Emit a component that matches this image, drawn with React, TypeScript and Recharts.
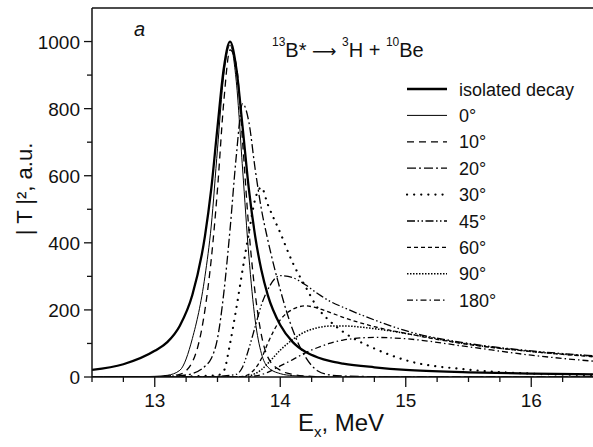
import React from "react";
import { LineChart, Line, XAxis, YAxis, ReferenceLine } from "recharts";

// excitation energy grid, MeV
const energies = [
  12.5, 12.75, 13.0, 13.1, 13.2, 13.3, 13.4, 13.45, 13.5, 13.55, 13.6, 13.65,
  13.7, 13.75, 13.8, 13.85, 13.9, 14.0, 14.1, 14.2, 14.3, 14.4, 14.5, 14.75,
  15.0, 15.5, 16.0, 16.5,
];

// |T|^2, a.u.
const isolated = [
  21, 38, 78, 104, 153, 245, 420, 560, 745, 920, 1000, 920, 745, 560, 420, 318,
  245, 155, 104, 75, 58, 47, 40, 29, 21, 14, 10, 8,
];
const deg0 = [
  0, 0, 2, 5, 20, 115, 300, 450, 680, 900, 990, 880, 620, 360, 170, 70, 30, 10,
  4, 2, 1, 0, 0, 0, 0, 0, 0, 0,
];
const deg10 = [
  0, 0, 1, 3, 8, 45, 200, 350, 560, 820, 975, 930, 700, 440, 250, 125, 60, 20,
  8, 3, 1, 0, 0, 0, 0, 0, 0, 0,
];
const deg20 = [
  0, 0, 1, 2, 4, 10, 32, 55, 115, 250, 440, 660, 815, 760, 620, 500, 410, 260,
  140, 60, 18, 6, 3, 1, 0, 0, 0, 0,
];
const deg30 = [
  0, 0, 0, 0, 1, 2, 3, 4, 5, 18, 100, 205, 320, 430, 530, 565, 515, 430, 340,
  270, 205, 165, 135, 85, 50, 22, 10, 6,
];
const deg45 = [
  0, 0, 0, 0, 0, 0, 1, 1, 2, 3, 5, 8, 30, 85, 150, 215, 260, 302, 296, 275, 248,
  225, 208, 170, 138, 100, 78, 63,
];
const deg60 = [
  0, 0, 0, 0, 0, 0, 0, 0, 0, 0, 0, 1, 2, 8, 25, 55, 100, 170, 202, 212, 205,
  192, 178, 150, 130, 97, 76, 60,
];
const deg90 = [
  0, 0, 0, 0, 0, 0, 0, 0, 0, 0, 0, 0, 1, 3, 10, 22, 40, 80, 112, 135, 147, 152,
  152, 144, 130, 98, 76, 62,
];
const deg180 = [
  0, 0, 0, 0, 0, 0, 0, 0, 0, 0, 0, 0, 0, 1, 3, 7, 14, 33, 52, 72, 88, 101, 110,
  118, 114, 90, 65, 47,
];

const seriesKeys = ["iso", "d0", "d10", "d20", "d30", "d45", "d60", "d90", "d180"];
const seriesNames = ["isolated decay", "0°", "10°", "20°", "30°", "45°", "60°", "90°", "180°"];
const seriesValues = [isolated, deg0, deg10, deg20, deg30, deg45, deg60, deg90, deg180];

const xTicks = [
  12.5, 12.75, 13, 13.25, 13.5, 13.75, 14, 14.25, 14.5, 14.75, 15, 15.25, 15.5,
  15.75, 16, 16.25,
];
const xLabels = [13, 14, 15, 16];
const yTicks = [0, 100, 200, 300, 400, 500, 600, 700, 800, 900, 1000];
const yLabels = [0, 200, 400, 600, 800, 1000];

const styles: Record<string, { w: number; dash?: string; cap?: "round" | "butt" }> = {
  iso: { w: 2.3 },
  d0: { w: 1 },
  d10: { w: 1.3, dash: "7 5" },
  d20: { w: 1.3, dash: "9 3 2 3" },
  d30: { w: 2.2, dash: "0.1 7", cap: "round" },
  d45: { w: 1.3, dash: "8 2.5 1.5 2.5 1.5 2.5" },
  d60: { w: 1.3, dash: "4 3" },
  d90: { w: 1.5, dash: "1.5 1.5" },
  d180: { w: 1.3, dash: "6 3 1.5 3" },
};

const rows = energies.map((e, i) => {
  const r: Record<string, number> = { E: e };
  seriesKeys.forEach((k, j) => (r[k] = seriesValues[j][i]));
  return r;
});

const FONT = '"Liberation Sans", Arial, Helvetica, sans-serif';
const INK = "#111";

function XTick(props: any) {
  const { x, y, payload } = props;
  const major = xLabels.includes(payload.value);
  return (
    <g>
      <line x1={x} x2={x} y1={y} y2={y + (major ? 10 : 5)} stroke={INK} strokeWidth={1.3} />
      {major && (
        <text x={x} y={y + 30} textAnchor="middle" fontSize={19} fontFamily={FONT} fill={INK}>
          {payload.value}
        </text>
      )}
    </g>
  );
}

function YTick(props: any) {
  const { x, y, payload } = props;
  const major = yLabels.includes(payload.value);
  return (
    <g>
      <line x1={x} x2={x - (major ? 8 : 5)} y1={y} y2={y} stroke={INK} strokeWidth={1.3} />
      {major && (
        <text x={x - 12} y={y + 7} textAnchor="end" fontSize={19} fontFamily={FONT} fill={INK}>
          {payload.value}
        </text>
      )}
    </g>
  );
}

const legendTop = 89;
const legendStep = 26.4;

export default function App() {
  return (
    <div
      style={{
        position: "absolute",
        left: 0,
        top: 0,
        width: 593,
        height: 447,
        overflow: "hidden",
        background: "#fff",
      }}
    >
      <LineChart
        width={600}
        height={447}
        data={rows}
        margin={{ top: 8, right: 6, bottom: 30, left: 32 }}
      >
        <XAxis
          dataKey="E"
          type="number"
          domain={[12.5, 16.5]}
          ticks={xTicks}
          interval={0}
          height={40}
          tickSize={0}
          tickMargin={0}
          tick={<XTick />}
          axisLine={{ stroke: INK, strokeWidth: 1.5 }}
          allowDataOverflow
        />
        <YAxis
          type="number"
          domain={[0, 1100]}
          ticks={yTicks}
          interval={0}
          width={60}
          tickSize={0}
          tickMargin={0}
          tick={<YTick />}
          axisLine={{ stroke: INK, strokeWidth: 1.5 }}
          allowDataOverflow
        />
        <ReferenceLine y={1100} stroke={INK} strokeWidth={1.5} />
        <ReferenceLine x={16.5} stroke={INK} strokeWidth={1.5} />
        {seriesKeys.map((k) => (
          <Line
            key={k}
            dataKey={k}
            type="monotone"
            stroke="#000"
            strokeWidth={styles[k].w}
            strokeDasharray={styles[k].dash}
            strokeLinecap={styles[k].cap ?? "butt"}
            dot={false}
            activeDot={false}
            isAnimationActive={false}
          />
        ))}
      </LineChart>
      <svg
        width={593}
        height={447}
        style={{ position: "absolute", left: 0, top: 0, pointerEvents: "none" }}
        fontFamily={FONT}
        fill={INK}
      >
        <text x={134} y={36} fontSize={20} fontStyle="italic">
          a
        </text>
        <text x={272} y={57} fontSize={20}>
          <tspan fontSize={12} dy={-11}>13</tspan>
          <tspan dy={11}>B* </tspan>
          <tspan fontFamily='"DejaVu Sans", sans-serif' fontSize={17}>⟶</tspan>
          <tspan> </tspan>
          <tspan fontSize={12} dy={-11}>3</tspan>
          <tspan dy={11}>H + </tspan>
          <tspan fontSize={12} dy={-11}>10</tspan>
          <tspan dy={11}>Be</tspan>
        </text>
        {seriesKeys.map((k, i) => {
          const cy = legendTop + i * legendStep;
          return (
            <g key={k}>
              <line
                x1={407}
                x2={447}
                y1={cy}
                y2={cy}
                stroke="#000"
                strokeWidth={styles[k].w}
                strokeDasharray={styles[k].dash}
                strokeLinecap={styles[k].cap ?? "butt"}
              />
              <text x={459} y={cy + 6.5} fontSize={18}>
                {seriesNames[i]}
              </text>
            </g>
          );
        })}
        <text x={341} y={431} fontSize={24} textAnchor="middle">
          <tspan>E</tspan>
          <tspan fontSize={15} dy={6}>x</tspan>
          <tspan dy={-6}>, MeV</tspan>
        </text>
        <text
          x={32}
          y={189}
          fontSize={22}
          textAnchor="middle"
          transform="rotate(-90 32 189)"
        >
          | T |², a.u.
        </text>
      </svg>
    </div>
  );
}
